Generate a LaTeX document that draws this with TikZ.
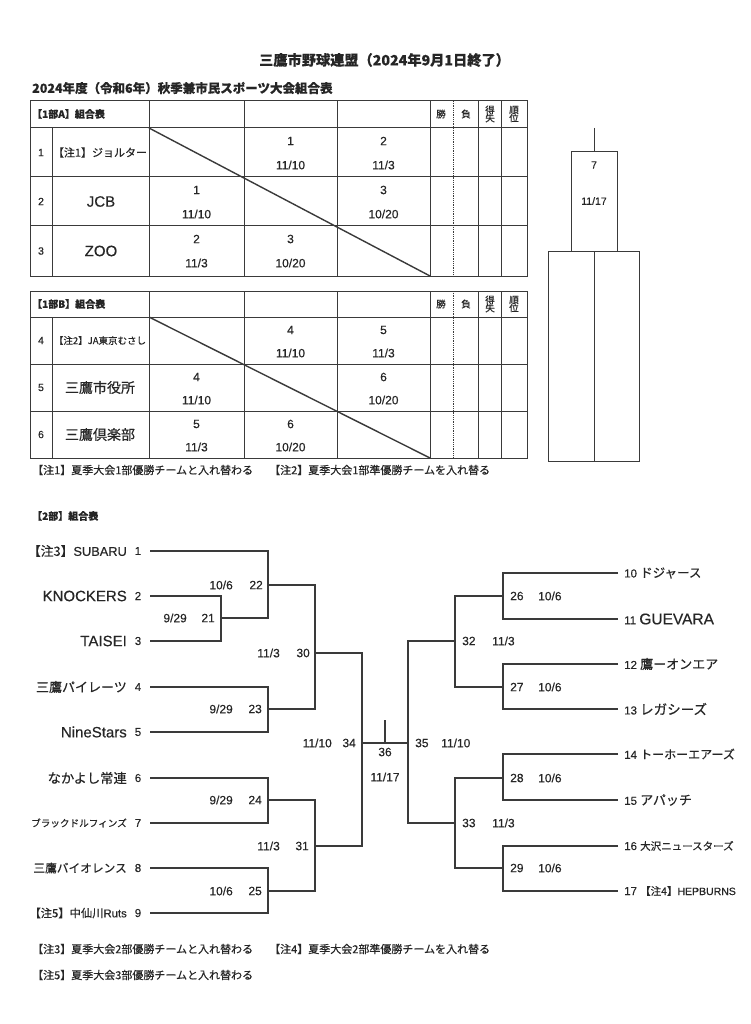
\documentclass[tikz,border=0pt]{standalone}
\usepackage{fontspec}
\setmainfont{Noto Sans CJK JP}[FakeBold=0.35]
\newfontfamily\lat{Liberation Sans}[FakeBold=0.35]
\newcommand\fs[1]{\fontsize{#1}{#1}\selectfont}
\definecolor{ln}{HTML}{3A3A3A}
\definecolor{tx}{HTML}{262626}
\tikzset{
  tl/.style={draw=ln,line width=1pt},
  bl/.style={draw=ln,line width=1.1pt},
  dg/.style={draw=ln,line width=1.4pt},
  t/.style={inner sep=0pt,text=tx},
  num/.style={t,font=\lat\fs{12}},
  hd/.style={t,font=\fs{9.5}},
  lab/.style={t,font=\lat\fs{12}},
}
\begin{document}
\begin{tikzpicture}[x=1pt,y=-1pt]
\useasboundingbox[fill=white] (0,0) rectangle (750,1024);

% titles
\node[t,font=\bfseries\fs{14.2}] (title) at (384.5,60) {三鷹市野球連盟（2024年9月1日終了）};
\node[t,font=\bfseries\fs{12.5},anchor=west] (sub) at (32,88) {2024年度（令和6年）秋季兼市民スポーツ大会組合表};

% ===== Table A =====
\draw[tl] (30,101) rectangle (527,276);
\foreach \y in {128,177,226} \draw[tl] (30,\y) -- (527,\y);
\draw[tl] (52,128) -- (52,276);
\foreach \x in {149,244,337,430,478,501} \draw[tl] (\x,101) -- (\x,276);
\draw[ln,line width=0.8pt,densely dotted] (453,101) -- (453,276);
\draw[dg] (149,128) -- (430,276);
\node[t,font=\bfseries\fs{10},anchor=west] (hA) at (32,114) {【1部A】組合表};
\node[hd] (hA1) at (441,114) {勝};
\node[hd] (hA2) at (466,114) {負};
\node[hd,align=center] (hA3) at (490,114) {得\\[-1.5pt]失};
\node[hd,align=center] (hA4) at (514,114) {順\\[-1.5pt]位};
\node[t,font=\lat\fs{10.5}] (ra1) at (41,152.5) {1};
\node[t,font=\lat\fs{10.5}] (ra2) at (41,201.5) {2};
\node[t,font=\lat\fs{10.5}] (ra3) at (41,251) {3};
\node[t,font=\fs{11}] (na1) at (100,152.5) {【注1】ジョルター};
\node[t,font=\lat\fs{15}] (na2) at (101,201.5) {JCB};
\node[t,font=\lat\fs{15}] (na3) at (101,251) {ZOO};
% row 1
\node[num] at (290.5,141) {1}; \node[num] at (290.5,165) {11/10};
\node[num] at (383.5,141) {2}; \node[num] at (383.5,165) {11/3};
% row 2
\node[num] at (196.5,190) {1}; \node[num] at (196.5,214) {11/10};
\node[num] at (383.5,190) {3}; \node[num] at (383.5,214) {10/20};
% row 3
\node[num] at (196.5,239) {2}; \node[num] at (196.5,263) {11/3};
\node[num] at (290.5,239) {3}; \node[num] at (290.5,263) {10/20};

% ===== Table B =====
\draw[tl] (30,291) rectangle (527,458);
\foreach \y in {317,364,411} \draw[tl] (30,\y) -- (527,\y);
\draw[tl] (52,317) -- (52,458);
\foreach \x in {149,244,337,430,478,501} \draw[tl] (\x,291) -- (\x,458);
\draw[ln,line width=0.8pt,densely dotted] (453,291) -- (453,458);
\draw[dg] (149,317) -- (430,458);
\node[t,font=\bfseries\fs{10},anchor=west] (hB) at (32,304) {【1部B】組合表};
\node[hd] (hB1) at (441,304) {勝};
\node[hd] (hB2) at (466,304) {負};
\node[hd,align=center] (hB3) at (490,304) {得\\[-1.5pt]失};
\node[hd,align=center] (hB4) at (514,304) {順\\[-1.5pt]位};
\node[t,font=\lat\fs{10.5}] (rb1) at (41,340.5) {4};
\node[t,font=\lat\fs{10.5}] (rb2) at (41,387.5) {5};
\node[t,font=\lat\fs{10.5}] (rb3) at (41,434.5) {6};
\node[t,font=\fs{9.5}] (nb1) at (100,340.5) {【注2】JA東京むさし};
\node[t,font=\fs{14}] (nb2) at (100,387.5) {三鷹市役所};
\node[t,font=\fs{14}] (nb3) at (100,434.5) {三鷹倶楽部};
\node[num] at (290.5,330) {4}; \node[num] at (290.5,353) {11/10};
\node[num] at (383.5,330) {5}; \node[num] at (383.5,353) {11/3};
\node[num] at (196.5,377) {4}; \node[num] at (196.5,400) {11/10};
\node[num] at (383.5,377) {6}; \node[num] at (383.5,400) {10/20};
\node[num] at (196.5,424) {5}; \node[num] at (196.5,447) {11/3};
\node[num] at (290.5,424) {6}; \node[num] at (290.5,447) {10/20};

\node[t,font=\fs{11},anchor=west] (fn1) at (32,470) {【注1】夏季大会1部優勝チームと入れ替わる};
\node[t,font=\fs{11},anchor=west] (fn2) at (269,470) {【注2】夏季大会1部準優勝チームを入れ替る};

% ===== final box (1部) =====
\coordinate (fTop) at (594,128);
\coordinate (fMid) at (594,152);
\draw[tl] (fTop) -- (fMid);
\draw[tl] (571,152) rectangle (617,251);
\draw[tl] (548,251) rectangle (639,461);
\draw[tl] (594,251) -- (594,461);
\node[t,font=\lat\fs{10.5}] (f7) at (594,165) {7};
\node[t,font=\lat\fs{10.5}] (f7d) at (594,201) {11/17};

% ===== 2部 bracket =====
\node[t,font=\bfseries\fs{10},anchor=west] (h2) at (32,516) {【2部】組合表};

% left teams
\foreach \i/\y in {1/551,2/596,3/641,4/687,5/732,6/778,7/823,8/868,9/913}{
  \node[t,font=\lat\fs{11.5}] (ln\i) at (138,\y) {\i};
  \coordinate (s\i) at (150,\y);
}
\node[t,anchor=east] (tm1) at (127,551) {\fs{12.8}【注3】\lat SUBARU};
\node[t,anchor=east,font=\lat\fs{15}] (tm2) at (127,596) {KNOCKERS};
\node[t,anchor=east,font=\lat\fs{15}] (tm3) at (127,641) {TAISEI};
\node[t,anchor=east,font=\fs{13}] (tm4) at (127,687) {三鷹パイレーツ};
\node[t,anchor=east,font=\lat\fs{15}] (tm5) at (127,732) {NineStars};
\node[t,anchor=east,font=\fs{13.3}] (tm6) at (127,778) {なかよし常連};
\node[t,anchor=east,font=\fs{9.6}] (tm7) at (127,823) {ブラックドルフィンズ};
\node[t,anchor=east,font=\fs{11.7}] (tm8) at (127,868) {三鷹バイオレンス};
\node[t,anchor=east,font=\fs{11.3}] (tm9) at (127,913) {【注5】中仙川\lat Ruts};

% left match coordinates
\coordinate (m21T) at (221,596); \coordinate (m21B) at (221,641); \coordinate (m21O) at (221,618);
\coordinate (m22T) at (268,551); \coordinate (m22B) at (268,618); \coordinate (m22O) at (268,585);
\coordinate (m23T) at (268,687); \coordinate (m23B) at (268,732); \coordinate (m23O) at (268,709);
\coordinate (m24T) at (268,778); \coordinate (m24B) at (268,823); \coordinate (m24O) at (268,800);
\coordinate (m25T) at (268,868); \coordinate (m25B) at (268,913); \coordinate (m25O) at (268,891);
\coordinate (m30T) at (315,585); \coordinate (m30B) at (315,709); \coordinate (m30O) at (315,653);
\coordinate (m31T) at (315,800); \coordinate (m31B) at (315,891); \coordinate (m31O) at (315,846);
\coordinate (m34T) at (362,653); \coordinate (m34B) at (362,846); \coordinate (m34O) at (362,743);

\draw[bl] (s2) -- (m21T) -- (m21B) -- (s3);
\draw[bl] (s1) -- (m22T) -- (m22B) -- (m21O);
\draw[bl] (s4) -- (m23T) -- (m23B) -- (s5);
\draw[bl] (s6) -- (m24T) -- (m24B) -- (s7);
\draw[bl] (s8) -- (m25T) -- (m25B) -- (s9);
\draw[bl] (m22O) -- (m30T) -- (m30B) -- (m23O);
\draw[bl] (m24O) -- (m31T) -- (m31B) -- (m25O);
\draw[bl] (m30O) -- (m34T) -- (m34B) -- (m31O);

% left labels
\node[lab,anchor=east] (g22) at (263,585) {22}; \node[lab,anchor=east] (d22) at (233,585) {10/6};
\node[lab,anchor=east] (g21) at (215,618) {21}; \node[lab,anchor=east] (d21) at (187,618) {9/29};
\node[lab,anchor=east] (g30) at (310,653) {30}; \node[lab,anchor=east] (d30) at (280,653) {11/3};
\node[lab,anchor=east] (g23) at (262,709) {23}; \node[lab,anchor=east] (d23) at (233,709) {9/29};
\node[lab,anchor=east] (g34) at (356,743) {34}; \node[lab,anchor=east] (d34) at (332,743) {11/10};
\node[lab,anchor=east] (g24) at (262,800) {24}; \node[lab,anchor=east] (d24) at (233,800) {9/29};
\node[lab,anchor=east] (g31) at (309,846) {31}; \node[lab,anchor=east] (d31) at (280,846) {11/3};
\node[lab,anchor=east] (g25) at (262,891) {25}; \node[lab,anchor=east] (d25) at (233,891) {10/6};

% right teams
\foreach \i/\y in {10/573,11/619,12/664,13/709,14/754,15/800,16/846,17/891}{
  \coordinate (s\i) at (618,\y);
}
\node[t,anchor=west] (tm10) at (624,573) {\lat\fs{11.5}10 \fs{12.5}\rmfamily ドジャース};
\node[t,anchor=west] (tm11) at (624,619) {\lat\fs{11.5}11 \fs{15.5}GUEVARA};
\node[t,anchor=west] (tm12) at (624,664) {\lat\fs{11.5}12 \fs{13}\rmfamily 鷹ーオンエア};
\node[t,anchor=west] (tm13) at (624,709) {\lat\fs{11.5}13 \fs{13.5}\rmfamily レガシーズ};
\node[t,anchor=west] (tm14) at (624,754) {\lat\fs{11.5}14 \fs{12}\rmfamily トーホーエアーズ};
\node[t,anchor=west] (tm15) at (624,800) {\lat\fs{11.5}15 \fs{13}\rmfamily アパッチ};
\node[t,anchor=west] (tm16) at (624,846) {\lat\fs{11.5}16 \fs{10.5}\rmfamily 大沢ニュースターズ};
\node[t,anchor=west] (tm17) at (624,891) {\lat\fs{11.5}17 \rmfamily\fs{10.5}【注4】\lat HEPBURNS};

\coordinate (m26T) at (503,573); \coordinate (m26B) at (503,619); \coordinate (m26O) at (503,596);
\coordinate (m27T) at (503,664); \coordinate (m27B) at (503,709); \coordinate (m27O) at (503,687);
\coordinate (m28T) at (503,754); \coordinate (m28B) at (503,800); \coordinate (m28O) at (503,778);
\coordinate (m29T) at (503,846); \coordinate (m29B) at (503,891); \coordinate (m29O) at (503,868);
\coordinate (m32T) at (455,596); \coordinate (m32B) at (455,687); \coordinate (m32O) at (455,641);
\coordinate (m33T) at (455,778); \coordinate (m33B) at (455,868); \coordinate (m33O) at (455,823);
\coordinate (m35T) at (408,641); \coordinate (m35B) at (408,823); \coordinate (m35O) at (408,743);

\draw[bl] (s10) -- (m26T) -- (m26B) -- (s11);
\draw[bl] (s12) -- (m27T) -- (m27B) -- (s13);
\draw[bl] (s14) -- (m28T) -- (m28B) -- (s15);
\draw[bl] (s16) -- (m29T) -- (m29B) -- (s17);
\draw[bl] (m26O) -- (m32T) -- (m32B) -- (m27O);
\draw[bl] (m28O) -- (m33T) -- (m33B) -- (m29O);
\draw[bl] (m32O) -- (m35T) -- (m35B) -- (m33O);

% final
\coordinate (c36) at (385,743);
\coordinate (c36t) at (385,720);
\draw[bl] (m34O) -- (c36) -- (m35O);
\draw[bl] (c36) -- (c36t);
\node[lab] (g36) at (385,752) {36};
\node[lab] (d36) at (385,777) {11/17};

% right labels
\node[lab,anchor=west] (g26) at (510,596) {26}; \node[lab,anchor=west] (d26) at (538,596) {10/6};
\node[lab,anchor=west] (g27) at (510,687) {27}; \node[lab,anchor=west] (d27) at (538,687) {10/6};
\node[lab,anchor=west] (g28) at (510,778) {28}; \node[lab,anchor=west] (d28) at (538,778) {10/6};
\node[lab,anchor=west] (g29) at (510,868) {29}; \node[lab,anchor=west] (d29) at (538,868) {10/6};
\node[lab,anchor=west] (g32) at (462,641) {32}; \node[lab,anchor=west] (d32) at (492,641) {11/3};
\node[lab,anchor=west] (g33) at (462,823) {33}; \node[lab,anchor=west] (d33) at (492,823) {11/3};
\node[lab,anchor=west] (g35) at (415,743) {35}; \node[lab,anchor=west] (d35) at (441,743) {11/10};

% footnotes
\node[t,font=\fs{11},anchor=west] (fn3) at (32,949) {【注3】夏季大会2部優勝チームと入れ替わる};
\node[t,font=\fs{11},anchor=west] (fn4) at (269,949) {【注4】夏季大会2部準優勝チームを入れ替る};
\node[t,font=\fs{11},anchor=west] (fn5) at (32,975) {【注5】夏季大会3部優勝チームと入れ替わる};
\end{tikzpicture}
\end{document}
